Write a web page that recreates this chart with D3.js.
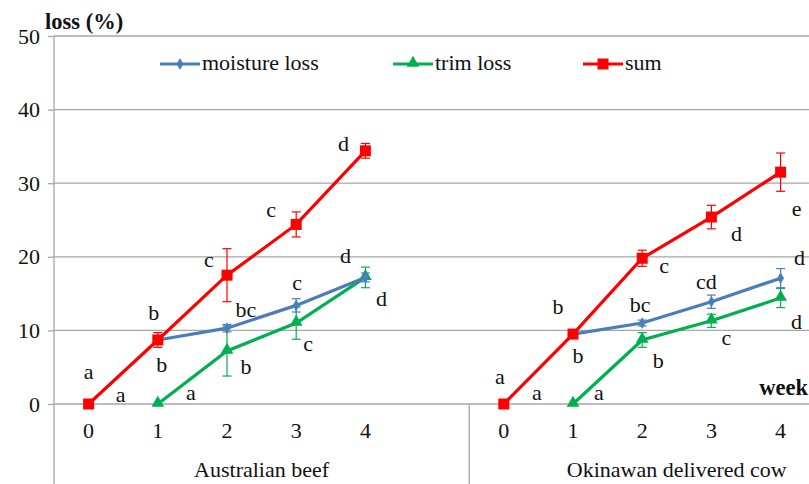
<!DOCTYPE html>
<html>
<head>
<meta charset="utf-8">
<script src="https://cdn.jsdelivr.net/npm/d3@7/dist/d3.min.js"></script>
<style>
  html, body { margin: 0; padding: 0; background: #fff; }
  svg { display: block; }
</style>
</head>
<body>
<svg id="chart" width="809" height="484"></svg>
<script>
// ---- data ----
const groups = ["Australian beef", "Okinawan delivered cow"];
const weeks = [0, 1, 2, 3, 4];
const yTicks = [0, 10, 20, 30, 40, 50];
const seriesNames = ["moisture loss", "trim loss", "sum"];

// values per group, indexed by week (null = not measured)
const moistureAU = [null, 8.7, 10.3, 13.4, 17.2];
const moistureAUerr = [null, 0, 0.5, 0.9, 0.6];
const trimAU = [null, 0, 7.2, 11.0, 17.2];
const trimAUerr = [null, 0, 3.4, 2.2, 1.4];
const sumAU = [0, 8.7, 17.5, 24.4, 34.4];
const sumAUerr = [0, 1.0, 3.6, 1.7, 1.0];

const moistureOK = [null, 9.5, 11.0, 13.9, 17.1];
const moistureOKerr = [null, 0, 0.4, 0.9, 1.3];
const trimOK = [null, 0, 8.7, 11.3, 14.4];
const trimOKerr = [null, 0, 1.0, 0.9, 1.3];
const sumOK = [0, 9.5, 19.8, 25.4, 31.5];
const sumOKerr = [0, 0, 1.1, 1.6, 2.6];

// significance letters: [group, series, week, letter]
const letters = [
  [0, 2, 0, "a"], [0, 2, 0, "a"], [0, 1, 1, "a"],
  [0, 2, 1, "b"], [0, 0, 1, "b"],
  [0, 2, 2, "c"], [0, 0, 2, "bc"], [0, 1, 2, "b"],
  [0, 2, 3, "c"], [0, 0, 3, "c"], [0, 1, 3, "c"],
  [0, 2, 4, "d"], [0, 0, 4, "d"], [0, 1, 4, "d"],
  [1, 2, 0, "a"], [1, 2, 0, "a"], [1, 1, 1, "a"],
  [1, 2, 1, "b"], [1, 0, 1, "b"],
  [1, 2, 2, "c"], [1, 0, 2, "bc"], [1, 1, 2, "b"],
  [1, 2, 3, "d"], [1, 0, 3, "cd"], [1, 1, 3, "c"],
  [1, 2, 4, "e"], [1, 0, 4, "d"], [1, 1, 4, "d"]
];
// where each letter sits relative to its point (px)
const letterOffsets = [
  [0, -31], [32, -8], [33, -10],
  [-4, -26], [4, 26],
  [-18, -14], [19, -17], [19, 17],
  [-25, -13], [1, -21], [12, 22],
  [-22, -6], [-20, -20], [16, 23],
  [-4, -26], [33, -10], [26, -10],
  [-15, -26], [5, 23],
  [22, 9], [-2, -17], [16, 22],
  [25, 18], [-5, -19], [15, 18],
  [16, 38], [19, -19], [16, 25]
];

// ---- layout ----
const FONT = "'Liberation Serif', Tinos, 'Times New Roman', Times, 'DejaVu Serif', serif";
const colors = ["#4a7ebb", "#00b050", "#ff0000"];
const svg = d3.select("#chart");
const W = 809, H = 484;
const slotsPerGroup = 6;
const step = 69.2;
const x0 = 54;
const xSlot = d3.scaleLinear().domain([0, 2 * slotsPerGroup]).range([x0, x0 + 2 * slotsPerGroup * step]);
const xPos = (g, w) => xSlot(g * slotsPerGroup + w + 0.5);
const y = d3.scaleLinear().domain([0, 50]).range([404, 36]);

const seriesData = [
  [[moistureAU, moistureAUerr], [trimAU, trimAUerr], [sumAU, sumAUerr]],
  [[moistureOK, moistureOKerr], [trimOK, trimOKerr], [sumOK, sumOKerr]]
];

function txt(sel, size = 22) {
  return sel.attr("font-family", FONT).style("font-family", FONT)
    .attr("font-size", size).attr("fill", "#111");
}

// gridlines + y axis
const yAxis = d3.axisLeft(y).tickValues(yTicks).tickSize(6).tickPadding(8);
const gy = svg.append("g").attr("transform", `translate(${x0},0)`).call(yAxis)
  .attr("font-family", FONT).attr("font-size", 22);
gy.select(".domain").remove();
gy.selectAll(".tick line").attr("stroke", "#a6a6a6").attr("stroke-width", 1.3);
txt(gy.selectAll(".tick text"));

svg.append("g").selectAll("line").data(yTicks).join("line")
  .attr("x1", x0).attr("x2", W)
  .attr("y1", d => y(d)).attr("y2", d => y(d))
  .attr("stroke", "#a6a6a6").attr("stroke-width", 1.3);

// vertical axis line and group separators
svg.append("line").attr("x1", x0).attr("x2", x0).attr("y1", y(50)).attr("y2", H)
  .attr("stroke", "#a6a6a6").attr("stroke-width", 1.3);
svg.append("line").attr("x1", xSlot(slotsPerGroup)).attr("x2", xSlot(slotsPerGroup))
  .attr("y1", y(0)).attr("y2", H)
  .attr("stroke", "#a6a6a6").attr("stroke-width", 1.3);

// week tick labels and group labels
groups.forEach((gName, g) => {
  txt(svg.append("g").selectAll("text").data(weeks).join("text")
    .attr("x", w => xPos(g, w)).attr("y", 438)
    .attr("text-anchor", "middle")).text(w => w);
  txt(svg.append("text")
    .attr("x", xSlot(g * slotsPerGroup + slotsPerGroup / 2)).attr("y", 477)
    .attr("text-anchor", "middle")).text(gName);
});

// axis titles
txt(svg.append("text").attr("x", 45).attr("y", 29), 22.5)
  .attr("font-weight", "bold").text("loss (%)");
txt(svg.append("text").attr("x", 808).attr("y", 395).attr("text-anchor", "end"), 22.5)
  .attr("font-weight", "bold").text("week");

// markers
function marker(sel, s, cx, cy) {
  if (s === 0) {
    sel.append("path").attr("d", d3.symbol(d3.symbolDiamond, 40)())
      .attr("transform", `translate(${cx},${cy})`).attr("fill", colors[0]);
  } else if (s === 1) {
    sel.append("path").attr("d", d3.symbol(d3.symbolTriangle, 70)())
      .attr("transform", `translate(${cx},${cy - 1})`).attr("fill", colors[1]);
  } else {
    sel.append("rect").attr("x", cx - 5.5).attr("y", cy - 5.5)
      .attr("width", 11).attr("height", 11).attr("fill", colors[2]);
  }
}

// series lines, error bars, markers
const line = d3.line().x(d => d[0]).y(d => d[1]);
const drawOrder = [1, 0, 2];
groups.forEach((gName, g) => {
  drawOrder.forEach(s => {
    const [vals, errs] = seriesData[g][s];
    const pts = weeks.filter(w => vals[w] !== null).map(w => [xPos(g, w), y(vals[w]), w]);
    const layer = svg.append("g");
    pts.forEach(([cx, cy, w]) => {
      const e = errs[w];
      if (e > 0) {
        const yt = y(vals[w] + e), yb = y(vals[w] - e);
        layer.append("line").attr("x1", cx).attr("x2", cx).attr("y1", yt).attr("y2", yb)
          .attr("stroke", colors[s]).attr("stroke-width", 1.2);
        [yt, yb].forEach(yy => layer.append("line")
          .attr("x1", cx - 4.5).attr("x2", cx + 4.5).attr("y1", yy).attr("y2", yy)
          .attr("stroke", colors[s]).attr("stroke-width", 1.2));
      }
    });
    layer.append("path").attr("d", line(pts)).attr("fill", "none")
      .attr("stroke", colors[s]).attr("stroke-width", 3.2);
    pts.forEach(([cx, cy]) => marker(layer, s, cx, cy));
  });
});

// significance letters
txt(svg.append("g").selectAll("text").data(letters).join("text")
  .attr("x", (d, i) => xPos(d[0], d[2]) + letterOffsets[i][0])
  .attr("y", (d, i) => y(seriesData[d[0]][d[1]][0][d[2]]) + letterOffsets[i][1] + 6)
  .attr("text-anchor", "middle")).text(d => d[3]);

// legend
const legendX = [160, 393, 583];
seriesNames.forEach((name, s) => {
  const lg = svg.append("g");
  const lx = legendX[s], ly = 64;
  lg.append("line").attr("x1", lx).attr("x2", lx + 40).attr("y1", ly).attr("y2", ly)
    .attr("stroke", colors[s]).attr("stroke-width", 3.2);
  marker(lg, s, lx + 20, ly);
  txt(lg.append("text").attr("x", lx + 42).attr("y", ly + 6)).text(name);
});
</script>
</body>
</html>
